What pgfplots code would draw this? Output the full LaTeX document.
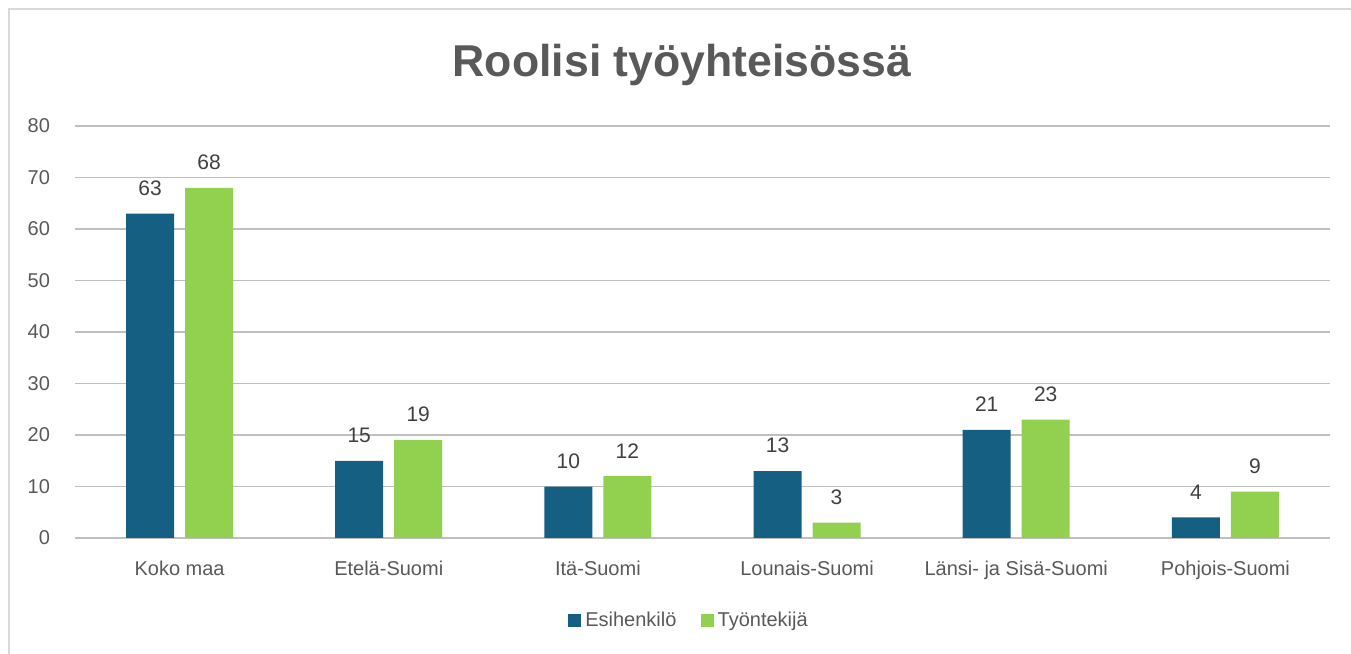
\documentclass[border=0pt]{standalone}
\usepackage{pgfplots}
\pgfplotsset{compat=1.18}
\usepackage{fontspec}
\setmainfont{Liberation Sans}
\definecolor{cblue}{HTML}{156082}
\definecolor{cgreen}{HTML}{92D050}
\definecolor{txt}{HTML}{595959}
\definecolor{grid}{HTML}{D9D9D9}
\begin{document}
\begin{tikzpicture}
\useasboundingbox (0,0) rectangle (675.5pt,327pt);
\draw[grid, line width=0.6pt] (4.5pt,0) -- (4.5pt,322.5pt) -- (675.5pt,322.5pt);
\node[text=txt, font=\bfseries\fontsize{22.3}{26}\selectfont] at (341pt,294.5pt) {Roolisi työyhteisössä};
\begin{axis}[
  at={(37.5pt,58pt)}, anchor=south west,
  scale only axis, width=627.5pt, height=206pt,
  ybar, bar width=24pt,
  xmin=-0.5, xmax=5.5, ymin=0, ymax=80,
  ytick={0,10,...,80},
  xtick={0,1,2,3,4,5},
  xticklabels={Koko maa, Etelä-Suomi, Itä-Suomi, Lounais-Suomi, Länsi- ja Sisä-Suomi, Pohjois-Suomi},
  major tick length=0pt,
  ymajorgrids, xmajorgrids=false, grid style={grid, line width=0.6pt},
  axis line style={draw=none},
  ticklabel style={text=txt, font=\fontsize{10}{12}\selectfont},
  /pgf/number format/assume math mode=true,
  yticklabel style={xshift=-9pt},
  xticklabel style={yshift=-8pt},
  nodes near coords,
  every node near coord/.append style={text=black!75, font=\fontsize{10.5}{12}\selectfont, yshift=5.5pt},
  legend style={draw=none, at={(0.49,-0.2)}, anchor=center, legend columns=2, font=\fontsize{10}{12}\selectfont, text=txt,
    /tikz/every even column/.append style={column sep=10pt}},
  legend image code/.code={\fill[#1] (-1pt,-3.3pt) rectangle (5.6pt,3.3pt);},
]
\addplot[bar shift=-14.75pt, fill=cblue, draw=none] coordinates {(0,63) (1,15) (2,10) (3,13) (4,21) (5,4)};
\addlegendentry{Esihenkilö}
\addplot[bar shift=14.75pt, fill=cgreen, draw=none] coordinates {(0,68) (1,19) (2,12) (3,3) (4,23) (5,9)};
\addlegendentry{Työntekijä}
\end{axis}
\end{tikzpicture}
\end{document}
